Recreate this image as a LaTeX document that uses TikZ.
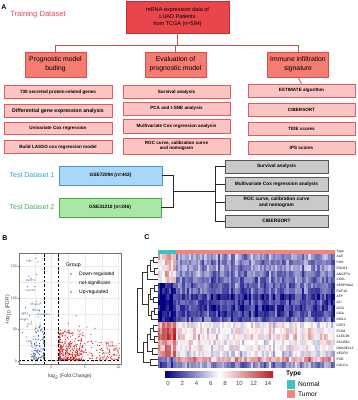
\documentclass[tikz,border=0pt]{standalone}
\usepackage{fontspec}
\setmainfont{Liberation Sans}
\usetikzlibrary{calc}
\definecolor{topred}{HTML}{E8464B}
\definecolor{topborder}{HTML}{C9282E}
\definecolor{midred}{HTML}{F47C70}
\definecolor{midborder}{HTML}{E2474A}
\definecolor{leafpink}{HTML}{FBC4C2}
\definecolor{leafborder}{HTML}{E25A5C}
\definecolor{linered}{HTML}{D94A4C}
\definecolor{trainred}{HTML}{E8474C}
\definecolor{testblue}{HTML}{2AA2D8}
\definecolor{boxblue}{HTML}{A9D7F7}
\definecolor{boxblueb}{HTML}{3D9BDB}
\definecolor{testgreen}{HTML}{3DAE5E}
\definecolor{boxgreen}{HTML}{A9E8A2}
\definecolor{boxgreenb}{HTML}{3DB24B}
\definecolor{greyfill}{HTML}{C9C9C9}
\definecolor{greyborder}{HTML}{555555}
\definecolor{downblue}{HTML}{3B6BA5}
\definecolor{upred}{HTML}{D42A2A}
\definecolor{nsgrey}{HTML}{D5D5D5}
\definecolor{gridgrey}{HTML}{EBEBEB}
\definecolor{hmnavy}{RGB}{0,0,128}
\definecolor{hmred}{RGB}{185,30,35}
\definecolor{typeteal}{HTML}{3EC1C3}
\definecolor{typesalmon}{HTML}{F2857D}
\newcommand{\djn}[5]{\draw[dendro] (#1,#2) -- (#5,#2) -- (#5,#4) -- (#3,#4);}
\tikzset{
 topbox/.style={draw=topborder, fill=topred, line width=0.8pt, minimum width=103pt, minimum height=32pt, align=center, inner sep=0pt, font=\fontsize{5.5}{7.2}\selectfont},
 midbox/.style={draw=midborder, fill=midred, line width=0.8pt, minimum width=61pt, minimum height=25pt, align=center, inner sep=0pt, font=\fontsize{6.8}{8.6}\selectfont},
 leafbox/.style={draw=leafborder, fill=leafpink, line width=0.8pt, minimum width=107pt, minimum height=12.5pt, align=center, inner sep=0pt, font=\bfseries\fontsize{4.6}{5.6}\selectfont},
 link/.style={draw=linered, line width=0.8pt},
 testbox/.style={line width=0.8pt, minimum width=103pt, minimum height=19pt, inner sep=0pt, font=\bfseries\fontsize{4.8}{6}\selectfont},
 testlabel/.style={font=\fontsize{7}{8}\selectfont, inner sep=0pt},
 greybox/.style={draw=greyborder, fill=greyfill, line width=0.9pt, minimum width=103pt, align=center, inner sep=0pt, font=\bfseries\fontsize{4.8}{5.8}\selectfont},
 bracket/.style={draw=black!85, line width=0.7pt},
 panel/.style={font=\bfseries\fontsize{7}{8}\selectfont, inner sep=0pt},
 dendro/.style={draw=black!80, line width=0.35pt},
 tick/.style={font=\fontsize{3.6}{4}\selectfont, text=black!70, inner sep=0.6pt},
 gene/.style={font=\fontsize{2.6}{3}\selectfont, inner sep=0pt},
 rowlab/.style={font=\fontsize{3.3}{3.6}\selectfont, anchor=west, inner sep=0pt},
 vdashed/.style={draw=black, line width=0.7pt, dash pattern=on 2.5pt off 1.8pt},
}
\begin{document}
\begin{tikzpicture}[x=1pt,y=-1pt]
\useasboundingbox[fill=white] (0,0) rectangle (358,400);

% ================= Panel A =================
\node[panel] (labA) at (4,7) {A};
\node[font=\fontsize{7.6}{9}\selectfont, text=trainred, inner sep=0pt] (train) at (38,15) {Training Dataset};
\node[topbox] (top) at (177.5,17) {mRNA-expression data of\\LUAD Patients\\from TCGA (n=594)};
\node[midbox] (pm) at (55.5,64.5) {Prognostic model\\buding};
\node[midbox] (ev) at (175.5,64.5) {Evaluation of\\prognostic model};
\node[midbox] (im) at (298,64.5) {Immune infiltration\\signature};
\coordinate (jm) at (177.5,45);
\draw[link] (top.south) -- (top.south |- jm);
\draw[link] (pm.north) -- (pm.north |- jm) -- (im.north |- jm) -- (im.north);
\draw[link] (ev.north) -- (ev.north |- jm);

\node[leafbox, minimum width=108pt] (l1) at (58,92) {730 secreted protein-related genes};
\node[leafbox, minimum width=108pt, font=\bfseries\fontsize{5.2}{6}\selectfont] (l2) at (58,111) {Differential gene expression analysis};
\node[leafbox, minimum width=108pt] (l3) at (58,128.5) {Univariate Cox regression};
\node[leafbox, minimum width=108pt] (l4) at (58,147) {Build LASSO cox regression model};

\node[leafbox] (m1) at (176.5,92) {Survival analysis};
\node[leafbox, minimum height=13pt] (m2) at (176.5,108.5) {PCA and t-SNE analysis};
\node[leafbox, minimum height=14.5pt] (m3) at (176.5,126.5) {Multivariate Cox regression analysis};
\node[leafbox, minimum height=16pt] (m4) at (176.5,146) {ROC curve, calibration curve\\and nomogram};

\node[leafbox, minimum height=13pt] (r1) at (301.5,90.5) {ESTIMATE algorithm};
\node[leafbox, minimum height=13.5pt] (r2) at (301.5,110) {CIBERSORT};
\node[leafbox, minimum height=13pt] (r3) at (301.5,128.5) {TIDE scores};
\node[leafbox, minimum height=13pt] (r4) at (301.5,147.5) {IPS scores};
\draw[link] (im.south) -- (r1.north);

% test datasets
\node[testlabel, text=testblue] (tl1) at (32,175) {Test Dataset 1};
\node[testlabel, text=testgreen] (tl2) at (32,207) {Test Dataset 2};
\node[testbox, draw=boxblueb, fill=boxblue] (t1) at (110.5,175.5) {GSE72094 (n=442)};
\node[testbox, draw=boxgreenb, fill=boxgreen, minimum width=102pt] (t2) at (110,207.5) {GSE31210 (n=246)};

\node[greybox, minimum height=13pt] (g1) at (276.5,166.5) {Survival analysis};
\node[greybox, minimum height=14pt] (g2) at (276.5,184) {Multivariate Cox regression analysis};
\node[greybox, minimum height=15pt] (g3) at (276.5,202.5) {ROC curve, calibration curve\\and nomogram};
\node[greybox, minimum height=12pt] (g4) at (276.5,221) {CIBERSORT};

\coordinate (bk) at (173,191.5);
\coordinate (tr) at (215,191.5);
\draw[bracket] (t1.east) -- (t1.east -| bk) -- (t2.east -| bk) -- (t2.east);
\draw[bracket] (bk) -- (tr);
\draw[bracket] (g1.west -| tr) -- (g4.west -| tr);
\foreach \g in {g1,g2,g3,g4}{\draw[bracket] (\g.west -| tr) -- (\g.west);}

% ================= Panel B =================
\node[panel] (labB) at (5,238) {B};
\fill[white] (19,253) rectangle (121,364);
\foreach \yy in {345.25,313.75,282.25}{\draw[gridgrey, line width=0.25pt] (19,\yy) -- (121,\yy);}
\foreach \xx in {34.75,68.25,101.75}{\draw[gridgrey, line width=0.25pt] (\xx,253) -- (\xx,364);}
\foreach \yy in {361,329.5,298,266.5}{\draw[gridgrey, line width=0.45pt] (19,\yy) -- (121,\yy);}
\foreach \xx in {51.5,85,118.5}{\draw[gridgrey, line width=0.45pt] (\xx,253) -- (\xx,364);}

\begin{scope}[shift={(51.5,361)}, x=6.7pt, y=0.63pt]
\clip (-4.85,-4.7) rectangle (10.37,171);
\pgfmathsetseed{77}
\foreach \i in {1,...,40}{
  \pgfmathsetmacro\xx{-1+2*rnd}
  \pgfmathsetmacro\yy{1.2*rnd}
  \fill[nsgrey] (\xx,\yy) circle[radius=0.5pt];
}
\foreach \i in {1,...,130}{
  \pgfmathsetmacro\xx{-1.05-2.0*pow(rnd,1.5)}
  \pgfmathsetmacro\yy{1.5+55*pow(rnd,1.6)}
  \fill[downblue] (\xx,\yy) circle[radius=0.6pt];
}
\foreach \p in {(-3.3,160),(-2.3,163),(-2.05,157),(-3.4,135),(-2.25,137),(-3.05,131),(-2.5,118),(-3.6,118),
 (-2.2,95),(-2.9,92),(-1.6,92),(-3.9,85),(-2.7,82),(-1.8,80),(-4.2,75),(-3.3,72),(-2.0,70),(-4.0,65),(-3.0,62),
 (-1.7,60),(-3.6,55),(-2.4,52),(-4.3,45),(-3.7,38),(-3.2,30),(-2.8,22)}{
  \fill[downblue] \p circle[radius=0.6pt];
}
\foreach \i in {1,...,320}{
  \pgfmathsetmacro\xx{1.05+3.6*pow(rnd,1.5)}
  \pgfmathsetmacro\yy{1.5+48*pow(rnd,2)}
  \fill[upred] (\xx,\yy) circle[radius=0.6pt];
}
\foreach \i in {1,...,140}{
  \pgfmathsetmacro\xx{1.05+9.1*rnd}
  \pgfmathsetmacro\yy{1.5+30*pow(rnd,1.4)}
  \fill[upred] (\xx,\yy) circle[radius=0.6pt];
}
\foreach \p in {(3.7,72),(2.5,60),(4.2,55),(6.5,52),(5.3,54),(2.0,48),(3.1,45),(5.9,42),(1.6,44),(4.8,40),
 (8.2,28),(9.1,25),(9.6,20),(8.7,15),(7.6,12),(9.3,10),(7.9,8),(8.5,5)}{
  \fill[upred] \p circle[radius=0.6pt];
}
\draw[vdashed] (-1,-5) -- (-1,172);
\draw[vdashed] (1,-5) -- (1,172);
\draw[vdashed] (-5,1.4) -- (10.4,1.4);
% gene labels
\node[gene, text=downblue] (gb1) at (-3.3,158) {TCN1};
\node[gene, text=downblue] (gb2) at (-3.1,127) {ANGPT4};
\node[gene, text=downblue] (gb3) at (-3.2,112) {CLEC3B};
\node[gene, text=downblue] (gb4) at (-2.4,89) {SCUBE1};
\node[gene, text=downblue] (gb5) at (-2.3,80) {FCN3};
\node[gene, text=downblue] (gb6) at (-1.2,74) {DNASE1L3};
\node[gene, text=downblue] (gb7) at (-4.0,75) {CSF3};
\node[gene, text=downblue] (gb8) at (-4.1,66) {VEGFD};
\node[gene, text=downblue] (gb9) at (-3.3,58) {PI16};
\node[gene, text=downblue] (gb10) at (-3.3,30) {CD5L};
\node[gene, text=upred] (gr1) at (8.6,29) {FGF19};
\node[gene, text=upred] (gr2) at (9.2,23) {INSL4};
\node[gene, text=upred] (gr3) at (9.6,17) {AFP};
\node[gene, text=upred] (gr4) at (8.2,12) {GCG};
\node[gene, text=upred] (gr5) at (9.5,8) {CGA};
\node[gene, text=upred] (gr6) at (7.5,6) {GC};
\node[gene, text=upred] (gr7) at (7.9,2.5) {ALB};
\node[gene, text=upred] (gr8) at (9.3,2.5) {FGB};
\end{scope}
\draw[black!55, line width=0.5pt] (19,253) rectangle (121,364);
\foreach \yy/\lab in {361/0,329.5/50,298/100,266.5/150}{
  \draw[black!60, line width=0.4pt] (17.6,\yy) -- (19,\yy);
  \node[tick, anchor=east] (yt\lab) at (17.6,\yy) {\lab};
}
\foreach \xx/\lab in {51.5/0,85/5,118.5/10}{
  \draw[black!60, line width=0.4pt] (\xx,364) -- (\xx,365.4);
  \node[tick, anchor=north] (xt\lab) at (\xx,365.4) {\lab};
}
\node[font=\fontsize{5}{6}\selectfont, text=black!80, inner sep=0pt] (xlab) at (70,377) {log\textsubscript{2} (Fold Change)};
\node[font=\fontsize{5}{6}\selectfont, text=black!80, inner sep=0pt, rotate=90] (ylab) at (8,310) {-log\textsubscript{10} (FDR)};
% legend
\node[font=\fontsize{5.2}{6}\selectfont, anchor=west, inner sep=0pt] (grp) at (66,265) {Group};
\fill[downblue] (71,274) circle[radius=0.8pt];
\fill[nsgrey] (71,283) circle[radius=0.8pt];
\fill[upred] (71,292) circle[radius=0.8pt];
\node[font=\fontsize{5}{6}\selectfont, anchor=west, inner sep=0pt] (lg1) at (79,274) {Down-regulated};
\node[font=\fontsize{5}{6}\selectfont, anchor=west, inner sep=0pt] (lg2) at (79,283) {not-significant};
\node[font=\fontsize{5}{6}\selectfont, anchor=west, inner sep=0pt] (lg3) at (79,292) {Up-regulated};

% ================= Panel C =================
\node[panel] (labC) at (147,237) {C};
\fill[typeteal] (158,249.5) rectangle (175.7,253.7);
\fill[typesalmon] (175.7,249.5) rectangle (335,253.7);
\pgfmathsetseed{2024}
\foreach \c in {0,...,79}{
  \pgfmathsetmacro\co{1.2*rand}
  \pgfmathsetmacro\xa{158+\c*2.2125}
  \pgfmathtruncatemacro\isN{\c<8 ? 1 : 0}
  \foreach \r/\bn/\bt in {0/9.5/4.5,1/9/4,2/8.6/4.5,3/9/4,4/8.2/3.6,5/1.2/3.2,6/1/3,7/0.5/1.8,8/0.5/2.2,9/0.5/1.8,
     10/0.5/2.2,11/1/2.8,12/11/7.6,13/12/8.2,14/12/8.6,15/10.5/7.8,16/10.5/7.8,17/11/6.8,18/3/10.3,19/2.5/4.5}{
    \pgfmathsetmacro\vv{(\isN==1 ? \bn : \bt) + \co + 1.5*rand}
    \pgfmathtruncatemacro\lo{\vv<8 ? 1 : 0}
    \ifnum\lo=1
      \pgfmathtruncatemacro\pp{max(0,\vv)/8*100}
      \fill[fill=white!\pp!hmnavy] (\xa,{254+\r*5.7}) rectangle ++(2.4,5.9);
    \else
      \pgfmathtruncatemacro\pp{min(100,(\vv-8)/6*100)}
      \fill[fill=hmred!\pp!white] (\xa,{254+\r*5.7}) rectangle ++(2.4,5.9);
    \fi
  }
}
% row labels
\node[rowlab] (rtype) at (336.5,251.6) {Type};
\foreach \r/\g in {0/ALB,1/PI16,2/FOLR3,3/ANGPT4,4/CD5L,5/SERPINA4,6/FGF19,7/AFP,8/GC,9/GCG,10/CGA,11/INSL4,
   12/CSF3,13/FCN3,14/CLEC3B,15/SCUBE1,16/DNASE1L3,17/VEGFD,18/FGB,19/CALCA}{
  \node[rowlab] (row\r) at (336.5,{256.85+\r*5.7}) {\g};
}
% dendrogram
\djn{158}{256.85}{158}{262.55}{153}
\djn{158}{268.25}{158}{273.95}{154}
\djn{153}{259.7}{154}{271.1}{150}
\djn{150}{265.4}{158}{279.65}{147}
\djn{158}{285.35}{158}{291.05}{154}
\djn{158}{296.75}{158}{302.45}{153}
\djn{158}{308.15}{158}{313.85}{154}
\djn{154}{311}{158}{319.55}{151}
\djn{154}{288.2}{153}{299.6}{150}
\djn{150}{293.9}{151}{315.28}{148}
\djn{147}{272.5}{148}{304.6}{142}
\djn{158}{325.25}{158}{330.95}{153}
\djn{158}{336.65}{158}{342.35}{154}
\djn{153}{328.1}{154}{339.5}{150}
\djn{158}{348.05}{158}{353.75}{152}
\djn{150}{333.8}{152}{350.9}{147}
\djn{158}{359.45}{158}{365.15}{150}
\djn{147}{342.35}{150}{362.3}{143}
\djn{142}{288.55}{143}{352.3}{137}
% colour bar
\shade[left color=hmnavy, right color=hmred, middle color=white] (165,371) rectangle (273,377.5);
\foreach \v in {0,2,...,14}{
  \node[font=\fontsize{6}{7}\selectfont, text=black!75, inner sep=0pt] (cb\v) at ({168+\v*7.14},383.5) {\v};
}
% type legend
\node[font=\bfseries\fontsize{6.6}{7.5}\selectfont, anchor=west, inner sep=0pt] (tyl) at (286,374) {Type};
\fill[typeteal] (287,380) rectangle (295,388.5);
\fill[typesalmon] (287,389.5) rectangle (295,398);
\node[font=\fontsize{6.6}{7.5}\selectfont, anchor=west, inner sep=0pt] (tyn) at (298,384.3) {Normal};
\node[font=\fontsize{6.6}{7.5}\selectfont, anchor=west, inner sep=0pt] (tyt) at (298,393.8) {Tumor};
\end{tikzpicture}
\end{document}
